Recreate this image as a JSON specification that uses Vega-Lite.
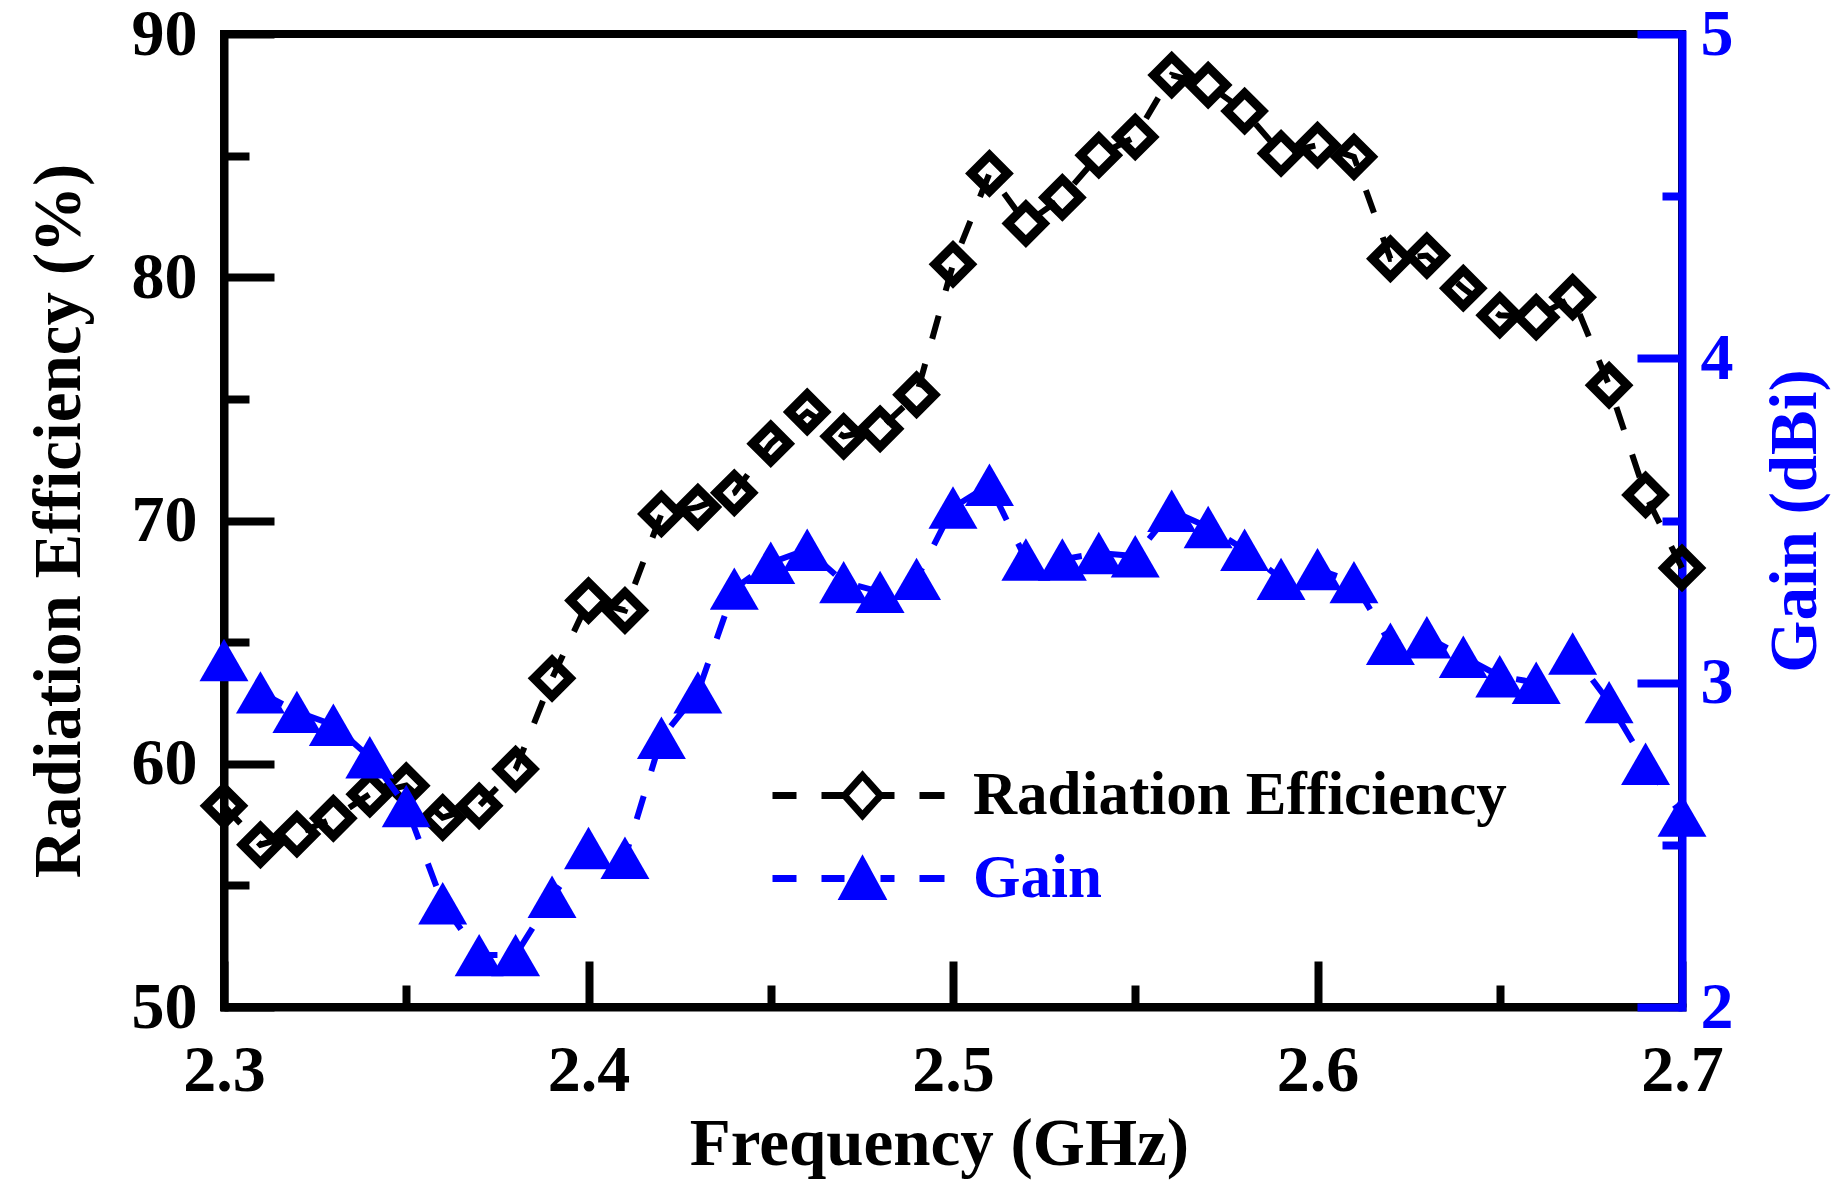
{
  "$schema": "https://vega.github.io/schema/vega-lite/v6.json",
  "width": 1458,
  "height": 973,
  "autosize": {"type": "none"},
  "padding": {"left": 224, "top": 34, "right": 164, "bottom": 195},
  "background": "white",
  "config": {
    "view": {"stroke": "black", "strokeWidth": 8},
    "font": "Liberation Serif",
    "axis": {
      "grid": false,
      "labelFont": "Liberation Serif",
      "labelFontWeight": "bold",
      "labelFontSize": 66,
      "labelColor": "black",
      "labelFlush": false,
      "labelOverlap": false,
      "titleFont": "Liberation Serif",
      "titleFontWeight": "bold",
      "titleFontSize": 67,
      "titleColor": "black",
      "domainWidth": 8,
      "domainColor": "black",
      "domainCap": "square",
      "tickWidth": 8,
      "tickColor": "black"
    }
  },
  "datasets": {
    "meas": [
      {"f": 2.30, "eff": 58.27, "gain": 3.07},
      {"f": 2.31, "eff": 56.67, "gain": 2.97},
      {"f": 2.32, "eff": 57.11, "gain": 2.91},
      {"f": 2.33, "eff": 57.76, "gain": 2.87},
      {"f": 2.34, "eff": 58.75, "gain": 2.77},
      {"f": 2.35, "eff": 59.10, "gain": 2.62},
      {"f": 2.36, "eff": 57.79, "gain": 2.32},
      {"f": 2.37, "eff": 58.27, "gain": 2.16},
      {"f": 2.38, "eff": 59.78, "gain": 2.16},
      {"f": 2.39, "eff": 63.51, "gain": 2.34},
      {"f": 2.40, "eff": 66.71, "gain": 2.49},
      {"f": 2.41, "eff": 66.30, "gain": 2.46},
      {"f": 2.42, "eff": 70.27, "gain": 2.83},
      {"f": 2.43, "eff": 70.55, "gain": 2.97},
      {"f": 2.44, "eff": 71.14, "gain": 3.29},
      {"f": 2.45, "eff": 73.16, "gain": 3.37},
      {"f": 2.46, "eff": 74.46, "gain": 3.41},
      {"f": 2.47, "eff": 73.46, "gain": 3.31},
      {"f": 2.48, "eff": 73.77, "gain": 3.28},
      {"f": 2.49, "eff": 75.17, "gain": 3.32},
      {"f": 2.50, "eff": 80.53, "gain": 3.54},
      {"f": 2.51, "eff": 84.27, "gain": 3.61},
      {"f": 2.52, "eff": 82.21, "gain": 3.38},
      {"f": 2.53, "eff": 83.28, "gain": 3.38},
      {"f": 2.54, "eff": 85.02, "gain": 3.40},
      {"f": 2.55, "eff": 85.77, "gain": 3.39},
      {"f": 2.56, "eff": 88.31, "gain": 3.53},
      {"f": 2.57, "eff": 87.90, "gain": 3.48},
      {"f": 2.58, "eff": 86.83, "gain": 3.41},
      {"f": 2.59, "eff": 85.09, "gain": 3.32},
      {"f": 2.60, "eff": 85.43, "gain": 3.35},
      {"f": 2.61, "eff": 84.95, "gain": 3.31},
      {"f": 2.62, "eff": 80.76, "gain": 3.12},
      {"f": 2.63, "eff": 80.89, "gain": 3.14},
      {"f": 2.64, "eff": 79.55, "gain": 3.08},
      {"f": 2.65, "eff": 78.44, "gain": 3.02},
      {"f": 2.66, "eff": 78.36, "gain": 3.00},
      {"f": 2.67, "eff": 79.18, "gain": 3.09},
      {"f": 2.68, "eff": 75.56, "gain": 2.94},
      {"f": 2.69, "eff": 71.05, "gain": 2.75},
      {"f": 2.70, "eff": 68.05, "gain": 2.59}
    ]
  },
  "data": {"name": "meas"},
  "layer": [
    {
      "layer": [
        {
          "mark": {"type": "line", "strokeWidth": 6, "strokeDash": [24, 26], "clip": false},
          "encoding": {
            "x": {
              "field": "f",
              "type": "quantitative",
              "scale": {"domain": [2.3, 2.7], "nice": false, "zero": false},
              "axis": {
                "orient": "bottom",
                "values": [2.3, 2.4, 2.5, 2.6, 2.7],
                "format": ".1f",
                "tickSize": -46,
                "labelPadding": 77,
                "title": "Frequency (GHz)",
                "titlePadding": 8,
                "titleX": 715
              }
            },
            "y": {
              "field": "eff",
              "type": "quantitative",
              "scale": {"domain": [50, 90], "nice": false, "zero": false},
              "axis": {
                "orient": "left",
                "values": [50, 60, 70, 80, 90],
                "tickSize": -50,
                "labelPadding": 77,
                "title": "Radiation Efficiency (%)",
                "titlePadding": 38
              }
            },
            "color": {
              "datum": "Radiation Efficiency",
              "type": "nominal",
              "scale": {"domain": ["Radiation Efficiency", "Gain"], "range": ["black", "#0000ff"]},
              "legend": {
                "orient": "none",
                "legendX": 608,
                "legendY": 731,
                "title": null,
                "padding": 0,
                "symbolSize": 1600,
                "symbolStrokeWidth": 7,
                "labelFont": "Liberation Serif",
                "labelFontWeight": "bold",
                "labelFontSize": 61,
                "labelOffset": 80,
                "labelLimit": 0,
                "rowPadding": 17,
                "encode": {
                  "symbols": {
                    "update": {
                      "shape": {"signal": "datum.value === 'Gain' ? 'M-4.5,0H-3.3M-2.05,0H-0.9M0.9,0H1.6M2.85,0H4.1M0,-0.85L0.95,0.9L-0.95,0.9Z' : 'M-4.5,0H-3.3M-2.05,0H-0.9M0.9,0H1.6M2.85,0H4.1M0,-1L0.9,0L0,1L-0.9,0Z'"},
                      "fill": {"signal": "datum.value === 'Gain' ? '#0000ff' : 'transparent'"},
                      "stroke": {"signal": "datum.value === 'Gain' ? '#0000ff' : 'black'"},
                      "strokeDash": {"value": [1, 0]},
                      "opacity": {"value": 1}
                    }
                  },
                  "labels": {
                    "update": {
                      "fill": {"signal": "datum.value === 'Gain' ? '#0000ff' : 'black'"}
                    }
                  }
                }
              }
            }
          }
        },
        {
          "mark": {"type": "point", "shape": "diamond", "filled": false, "size": 1300, "strokeWidth": 9, "color": "black", "opacity": 1, "clip": false},
          "encoding": {
            "x": {
              "field": "f",
              "type": "quantitative",
              "scale": {"domain": [2.3, 2.7], "nice": false, "zero": false},
              "axis": {
                "orient": "bottom",
                "values": [2.3, 2.4, 2.5, 2.6, 2.7],
                "format": ".1f",
                "tickSize": -46,
                "labelPadding": 77,
                "title": "Frequency (GHz)",
                "titlePadding": 8,
                "titleX": 715
              }
            },
            "y": {
              "field": "eff",
              "type": "quantitative",
              "scale": {"domain": [50, 90], "nice": false, "zero": false},
              "axis": {
                "orient": "left",
                "values": [55, 65, 75, 85],
                "tickSize": -25,
                "labels": false,
                "domain": false,
                "title": null
              }
            }
          }
        }
      ],
      "resolve": {"axis": {"y": "independent"}}
    },
    {
      "layer": [
        {
          "mark": {"type": "line", "strokeWidth": 6, "strokeDash": [24, 26], "clip": false},
          "encoding": {
            "x": {
              "field": "f",
              "type": "quantitative",
              "axis": {
                "orient": "bottom",
                "values": [2.35, 2.45, 2.55, 2.65],
                "tickSize": -22,
                "labels": false,
                "domain": false,
                "title": null
              }
            },
            "y": {
              "field": "gain",
              "type": "quantitative",
              "scale": {"domain": [2, 5], "nice": false, "zero": false},
              "axis": {
                "orient": "right",
                "values": [2, 3, 4, 5],
                "tickSize": -45,
                "labelPadding": 63,
                "labelColor": "#0000ff",
                "tickColor": "#0000ff",
                "domainColor": "#0000ff",
                "title": "Gain (dBi)",
                "titleColor": "#0000ff",
                "titleAngle": 270,
                "titleBaseline": "top",
                "titlePadding": 29
              }
            },
            "color": {"datum": "Gain", "type": "nominal"}
          }
        },
        {
          "mark": {"type": "point", "shape": "triangle-up", "filled": true, "size": 2400, "color": "#0000ff", "opacity": 1, "clip": false},
          "encoding": {
            "x": {
              "field": "f",
              "type": "quantitative",
              "axis": {
                "orient": "bottom",
                "values": [2.35, 2.45, 2.55, 2.65],
                "tickSize": -22,
                "labels": false,
                "domain": false,
                "title": null
              }
            },
            "y": {
              "field": "gain",
              "type": "quantitative",
              "scale": {"domain": [2, 5], "nice": false, "zero": false},
              "axis": {
                "orient": "right",
                "values": [2.5, 3.5, 4.5],
                "tickSize": -20,
                "tickColor": "#0000ff",
                "labels": false,
                "domain": false,
                "title": null
              }
            }
          }
        }
      ],
      "resolve": {"axis": {"y": "independent"}}
    }
  ],
  "resolve": {"scale": {"y": "independent"}, "axis": {"x": "independent", "y": "independent"}}
}
